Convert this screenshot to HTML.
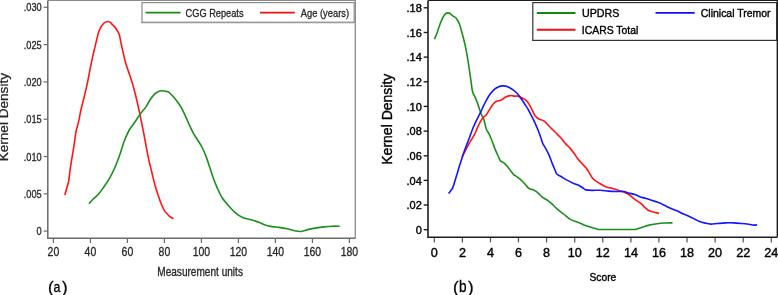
<!DOCTYPE html>
<html><head><meta charset="utf-8"><style>
html,body{margin:0;padding:0;background:#fff;}
svg{display:block;will-change:transform;}
text{font-family:"Liberation Sans",sans-serif;}
.lt{fill:#262626;stroke:#262626;stroke-width:0.3px;}
.rt{fill:#000;stroke:#000;stroke-width:0.38px;}
.lab text{fill:#000;stroke:#000;stroke-width:0.3px;}
</style></head><body>
<svg width="778" height="295" viewBox="0 0 778 295" font-family="Liberation Sans, sans-serif">
<rect width="778" height="295" fill="#fff"/>
<path d="M47.8,0.4 H355.3 V238.2" fill="none" stroke="#8a8a8a" stroke-width="1.3"/>
<path d="M47.8,0.4 V238.2 H355.3" fill="none" stroke="#6a6a6a" stroke-width="1.5"/>
<line x1="43.6" x2="47.8" y1="231.1" y2="231.1" stroke="#6a6a6a" stroke-width="1.2"/>
<text transform="translate(41.7,235.2) scale(0.84,1)" text-anchor="end" font-size="11" class="lt">0</text>
<line x1="43.6" x2="47.8" y1="193.8" y2="193.8" stroke="#6a6a6a" stroke-width="1.2"/>
<text transform="translate(41.7,197.9) scale(0.84,1)" text-anchor="end" font-size="11" class="lt">.005</text>
<line x1="43.6" x2="47.8" y1="156.5" y2="156.5" stroke="#6a6a6a" stroke-width="1.2"/>
<text transform="translate(41.7,160.6) scale(0.84,1)" text-anchor="end" font-size="11" class="lt">.010</text>
<line x1="43.6" x2="47.8" y1="119.2" y2="119.2" stroke="#6a6a6a" stroke-width="1.2"/>
<text transform="translate(41.7,123.3) scale(0.84,1)" text-anchor="end" font-size="11" class="lt">.015</text>
<line x1="43.6" x2="47.8" y1="81.9" y2="81.9" stroke="#6a6a6a" stroke-width="1.2"/>
<text transform="translate(41.7,86.0) scale(0.84,1)" text-anchor="end" font-size="11" class="lt">.020</text>
<line x1="43.6" x2="47.8" y1="44.6" y2="44.6" stroke="#6a6a6a" stroke-width="1.2"/>
<text transform="translate(41.7,48.7) scale(0.84,1)" text-anchor="end" font-size="11" class="lt">.025</text>
<line x1="43.6" x2="47.8" y1="7.3" y2="7.3" stroke="#6a6a6a" stroke-width="1.2"/>
<text transform="translate(41.7,11.4) scale(0.84,1)" text-anchor="end" font-size="11" class="lt">.030</text>
<line x1="53.4" x2="53.4" y1="239.0" y2="243" stroke="#6a6a6a" stroke-width="1.2"/>
<text transform="translate(53.4,255.8) scale(0.84,1)" text-anchor="middle" font-size="12.5" class="lt">20</text>
<line x1="90.4" x2="90.4" y1="239.0" y2="243" stroke="#6a6a6a" stroke-width="1.2"/>
<text transform="translate(90.4,255.8) scale(0.84,1)" text-anchor="middle" font-size="12.5" class="lt">40</text>
<line x1="127.4" x2="127.4" y1="239.0" y2="243" stroke="#6a6a6a" stroke-width="1.2"/>
<text transform="translate(127.4,255.8) scale(0.84,1)" text-anchor="middle" font-size="12.5" class="lt">60</text>
<line x1="164.4" x2="164.4" y1="239.0" y2="243" stroke="#6a6a6a" stroke-width="1.2"/>
<text transform="translate(164.4,255.8) scale(0.84,1)" text-anchor="middle" font-size="12.5" class="lt">80</text>
<line x1="201.4" x2="201.4" y1="239.0" y2="243" stroke="#6a6a6a" stroke-width="1.2"/>
<text transform="translate(201.4,255.8) scale(0.84,1)" text-anchor="middle" font-size="12.5" class="lt">100</text>
<line x1="238.4" x2="238.4" y1="239.0" y2="243" stroke="#6a6a6a" stroke-width="1.2"/>
<text transform="translate(238.4,255.8) scale(0.84,1)" text-anchor="middle" font-size="12.5" class="lt">120</text>
<line x1="275.4" x2="275.4" y1="239.0" y2="243" stroke="#6a6a6a" stroke-width="1.2"/>
<text transform="translate(275.4,255.8) scale(0.84,1)" text-anchor="middle" font-size="12.5" class="lt">140</text>
<line x1="312.4" x2="312.4" y1="239.0" y2="243" stroke="#6a6a6a" stroke-width="1.2"/>
<text transform="translate(312.4,255.8) scale(0.84,1)" text-anchor="middle" font-size="12.5" class="lt">160</text>
<line x1="349.4" x2="349.4" y1="239.0" y2="243" stroke="#6a6a6a" stroke-width="1.2"/>
<text transform="translate(349.4,255.8) scale(0.84,1)" text-anchor="middle" font-size="12.5" class="lt">180</text>
<text transform="translate(200.1,275.5) scale(0.84,1)" text-anchor="middle" font-size="12" class="lt">Measurement units</text>
<text transform="translate(8.3,117.2) rotate(-90) scale(1,0.9)" text-anchor="middle" font-size="13.6" class="lt">Kernel Density</text>
<rect x="142.0" y="2.6" width="212.2" height="19.8" fill="#fff" stroke="#8a8a8a" stroke-width="1.2"/>
<line x1="141" x2="354.8" y1="22.5" y2="22.5" stroke="#999" stroke-width="1.6"/>
<line x1="145.6" x2="180.6" y1="12.6" y2="12.6" stroke="#1a8a1a" stroke-width="1.8"/>
<text transform="translate(185.6,16.8) scale(0.84,1)" font-size="11" class="lt">CGG Repeats</text>
<line x1="260" x2="294.8" y1="12.6" y2="12.6" stroke="#f01010" stroke-width="1.8"/>
<text transform="translate(300.8,16.8) scale(0.85,1)" font-size="11" class="lt">Age (years)</text>
<path d="M64.80,195.10 C65.12,193.97 66.07,190.57 66.70,188.30 C67.33,186.03 68.05,184.43 68.60,181.50 C69.15,178.57 69.42,174.77 70.00,170.70 C70.58,166.63 71.38,161.62 72.10,157.10 C72.82,152.58 73.65,147.87 74.30,143.60 C74.95,139.33 75.32,135.03 76.00,131.50 C76.68,127.97 77.53,126.18 78.40,122.40 C79.27,118.62 80.28,112.87 81.20,108.80 C82.12,104.73 82.92,102.07 83.90,98.00 C84.88,93.93 86.12,88.97 87.10,84.40 C88.08,79.83 88.88,75.20 89.80,70.60 C90.72,66.00 91.68,60.97 92.60,56.80 C93.52,52.63 94.37,49.47 95.30,45.60 C96.23,41.73 97.37,36.50 98.20,33.60 C99.03,30.70 99.55,29.72 100.30,28.20 C101.05,26.68 101.88,25.47 102.70,24.50 C103.52,23.53 104.28,22.90 105.20,22.40 C106.12,21.90 107.35,21.50 108.20,21.50 C109.05,21.50 109.68,21.97 110.30,22.40 C110.92,22.83 111.28,23.48 111.90,24.10 C112.52,24.72 113.30,25.32 114.00,26.10 C114.70,26.88 115.38,27.73 116.10,28.80 C116.82,29.87 117.72,31.33 118.30,32.50 C118.88,33.67 119.20,34.30 119.60,35.80 C120.00,37.30 120.18,39.02 120.70,41.50 C121.22,43.98 121.97,47.45 122.70,50.70 C123.43,53.95 124.33,58.10 125.10,61.00 C125.87,63.90 126.28,65.02 127.30,68.10 C128.32,71.18 129.95,75.52 131.20,79.50 C132.45,83.48 133.67,87.67 134.80,92.00 C135.93,96.33 136.93,100.72 138.00,105.50 C139.07,110.28 140.22,115.92 141.20,120.70 C142.18,125.48 143.02,129.65 143.90,134.20 C144.78,138.75 145.65,143.55 146.50,148.00 C147.35,152.45 148.13,156.95 149.00,160.90 C149.87,164.85 150.70,167.63 151.70,171.70 C152.70,175.77 153.87,181.22 155.00,185.30 C156.13,189.38 157.33,192.80 158.50,196.20 C159.67,199.60 160.87,203.08 162.00,205.70 C163.13,208.32 164.03,210.13 165.30,211.90 C166.57,213.67 168.25,215.18 169.60,216.30 C170.95,217.42 172.77,218.22 173.40,218.60" fill="none" stroke="#ff1515" stroke-width="1.6" stroke-linejoin="round"/>
<path d="M88.90,203.80 C89.58,203.03 91.42,200.78 93.00,199.20 C94.58,197.62 96.60,196.33 98.40,194.30 C100.20,192.27 102.00,189.58 103.80,187.00 C105.60,184.42 107.38,181.97 109.20,178.80 C111.02,175.63 112.95,171.97 114.70,168.00 C116.45,164.03 118.13,159.42 119.70,155.00 C121.27,150.58 122.55,145.58 124.10,141.50 C125.65,137.42 127.20,133.75 129.00,130.50 C130.80,127.25 133.02,124.77 134.90,122.00 C136.78,119.23 138.48,116.38 140.30,113.90 C142.12,111.42 144.22,109.37 145.80,107.10 C147.38,104.83 148.45,102.33 149.80,100.30 C151.15,98.27 152.53,96.33 153.90,94.90 C155.27,93.47 156.65,92.38 158.00,91.70 C159.35,91.02 160.65,90.85 162.00,90.80 C163.35,90.75 164.97,91.17 166.10,91.40 C167.23,91.63 167.67,91.38 168.80,92.20 C169.93,93.02 171.53,94.80 172.90,96.30 C174.27,97.80 175.65,99.40 177.00,101.20 C178.35,103.00 179.65,104.75 181.00,107.10 C182.35,109.45 183.73,112.37 185.10,115.30 C186.47,118.23 187.85,121.77 189.20,124.70 C190.55,127.63 191.90,130.52 193.20,132.90 C194.50,135.28 195.55,136.65 197.00,139.00 C198.45,141.35 200.35,143.98 201.90,147.00 C203.45,150.02 205.00,153.72 206.30,157.10 C207.60,160.48 208.57,163.90 209.70,167.30 C210.83,170.70 211.87,174.12 213.10,177.50 C214.33,180.88 215.58,184.22 217.10,187.60 C218.62,190.98 220.22,194.68 222.20,197.80 C224.18,200.92 226.73,203.75 229.00,206.30 C231.27,208.85 233.55,211.23 235.80,213.10 C238.05,214.97 239.97,216.38 242.50,217.50 C245.03,218.62 248.17,218.97 251.00,219.80 C253.83,220.63 257.15,221.65 259.50,222.50 C261.85,223.35 262.98,224.22 265.10,224.90 C267.22,225.58 269.83,226.18 272.20,226.60 C274.57,227.02 276.83,227.03 279.30,227.40 C281.77,227.77 284.65,228.28 287.00,228.80 C289.35,229.32 291.05,230.05 293.40,230.50 C295.75,230.95 298.53,231.68 301.10,231.50 C303.67,231.32 306.22,230.00 308.80,229.40 C311.38,228.80 314.02,228.32 316.60,227.90 C319.18,227.48 321.73,227.18 324.30,226.90 C326.87,226.62 329.43,226.32 332.00,226.20 C334.57,226.08 338.42,226.20 339.70,226.20" fill="none" stroke="#1a8f1a" stroke-width="1.6" stroke-linejoin="round"/>
<path d="M428.0,0.4 H777.3 V237.2" fill="none" stroke="#1e1e1e" stroke-width="1.4"/>
<path d="M428.0,0.4 V237.2 H777.3" fill="none" stroke="#1e1e1e" stroke-width="1.6"/>
<line x1="423.7" x2="428.0" y1="229.7" y2="229.7" stroke="#1e1e1e" stroke-width="1.4"/>
<text x="421.8" y="233.8" text-anchor="end" font-size="11" class="rt">0</text>
<line x1="423.7" x2="428.0" y1="205.0" y2="205.0" stroke="#1e1e1e" stroke-width="1.4"/>
<text x="421.8" y="209.1" text-anchor="end" font-size="11" class="rt">.02</text>
<line x1="423.7" x2="428.0" y1="180.4" y2="180.4" stroke="#1e1e1e" stroke-width="1.4"/>
<text x="421.8" y="184.5" text-anchor="end" font-size="11" class="rt">.04</text>
<line x1="423.7" x2="428.0" y1="155.8" y2="155.8" stroke="#1e1e1e" stroke-width="1.4"/>
<text x="421.8" y="159.8" text-anchor="end" font-size="11" class="rt">.06</text>
<line x1="423.7" x2="428.0" y1="131.1" y2="131.1" stroke="#1e1e1e" stroke-width="1.4"/>
<text x="421.8" y="135.2" text-anchor="end" font-size="11" class="rt">.08</text>
<line x1="423.7" x2="428.0" y1="106.4" y2="106.4" stroke="#1e1e1e" stroke-width="1.4"/>
<text x="421.8" y="110.5" text-anchor="end" font-size="11" class="rt">.10</text>
<line x1="423.7" x2="428.0" y1="81.8" y2="81.8" stroke="#1e1e1e" stroke-width="1.4"/>
<text x="421.8" y="85.9" text-anchor="end" font-size="11" class="rt">.12</text>
<line x1="423.7" x2="428.0" y1="57.1" y2="57.1" stroke="#1e1e1e" stroke-width="1.4"/>
<text x="421.8" y="61.2" text-anchor="end" font-size="11" class="rt">.14</text>
<line x1="423.7" x2="428.0" y1="32.5" y2="32.5" stroke="#1e1e1e" stroke-width="1.4"/>
<text x="421.8" y="36.6" text-anchor="end" font-size="11" class="rt">.16</text>
<line x1="423.7" x2="428.0" y1="7.8" y2="7.8" stroke="#1e1e1e" stroke-width="1.4"/>
<text x="421.8" y="11.9" text-anchor="end" font-size="11" class="rt">.18</text>
<line x1="434.3" x2="434.3" y1="238.0" y2="242.4" stroke="#555" stroke-width="1.2"/>
<text x="434.3" y="257.1" text-anchor="middle" font-size="12.6" class="rt">0</text>
<line x1="462.4" x2="462.4" y1="238.0" y2="242.4" stroke="#555" stroke-width="1.2"/>
<text x="462.4" y="257.1" text-anchor="middle" font-size="12.6" class="rt">2</text>
<line x1="490.5" x2="490.5" y1="238.0" y2="242.4" stroke="#555" stroke-width="1.2"/>
<text x="490.5" y="257.1" text-anchor="middle" font-size="12.6" class="rt">4</text>
<line x1="518.5" x2="518.5" y1="238.0" y2="242.4" stroke="#555" stroke-width="1.2"/>
<text x="518.5" y="257.1" text-anchor="middle" font-size="12.6" class="rt">6</text>
<line x1="546.6" x2="546.6" y1="238.0" y2="242.4" stroke="#555" stroke-width="1.2"/>
<text x="546.6" y="257.1" text-anchor="middle" font-size="12.6" class="rt">8</text>
<line x1="574.7" x2="574.7" y1="238.0" y2="242.4" stroke="#555" stroke-width="1.2"/>
<text x="574.7" y="257.1" text-anchor="middle" font-size="12.6" class="rt">10</text>
<line x1="602.8" x2="602.8" y1="238.0" y2="242.4" stroke="#555" stroke-width="1.2"/>
<text x="602.8" y="257.1" text-anchor="middle" font-size="12.6" class="rt">12</text>
<line x1="630.9" x2="630.9" y1="238.0" y2="242.4" stroke="#555" stroke-width="1.2"/>
<text x="630.9" y="257.1" text-anchor="middle" font-size="12.6" class="rt">14</text>
<line x1="658.9" x2="658.9" y1="238.0" y2="242.4" stroke="#555" stroke-width="1.2"/>
<text x="658.9" y="257.1" text-anchor="middle" font-size="12.6" class="rt">16</text>
<line x1="687.0" x2="687.0" y1="238.0" y2="242.4" stroke="#555" stroke-width="1.2"/>
<text x="687.0" y="257.1" text-anchor="middle" font-size="12.6" class="rt">18</text>
<line x1="715.1" x2="715.1" y1="238.0" y2="242.4" stroke="#555" stroke-width="1.2"/>
<text x="715.1" y="257.1" text-anchor="middle" font-size="12.6" class="rt">20</text>
<line x1="743.2" x2="743.2" y1="238.0" y2="242.4" stroke="#555" stroke-width="1.2"/>
<text x="743.2" y="257.1" text-anchor="middle" font-size="12.6" class="rt">22</text>
<line x1="771.3" x2="771.3" y1="238.0" y2="242.4" stroke="#555" stroke-width="1.2"/>
<text x="771.3" y="257.1" text-anchor="middle" font-size="12.6" class="rt">24</text>
<text transform="translate(602.9,280.8) scale(0.885,1)" text-anchor="middle" font-size="11.6" class="rt">Score</text>
<text transform="translate(392,119.2) rotate(-90)" text-anchor="middle" font-size="14" class="rt">Kernel Density</text>
<rect x="532.8" y="2.6" width="243.8" height="37.8" fill="#fff" stroke="#333" stroke-width="1.2"/>
<line x1="536.8" x2="575.5" y1="13" y2="13" stroke="#118811" stroke-width="1.9"/>
<line x1="536.8" x2="575.5" y1="29.8" y2="29.8" stroke="#f01010" stroke-width="1.9"/>
<line x1="655.5" x2="694.7" y1="12.9" y2="12.9" stroke="#1010f0" stroke-width="1.9"/>
<text transform="translate(582,17.2) scale(0.955,1)" font-size="11.2" class="rt">UPDRS</text>
<text transform="translate(581.8,34.3) scale(0.93,1)" font-size="11.2" class="rt">ICARS Total</text>
<text transform="translate(700.8,17.2) scale(0.935,1)" font-size="11.2" class="rt">Clinical Tremor</text>
<path d="M434.50,39.20 C434.95,38.08 436.32,34.90 437.20,32.50 C438.08,30.10 439.05,26.85 439.80,24.80 C440.55,22.75 440.98,21.77 441.70,20.20 C442.42,18.63 443.40,16.52 444.10,15.40 C444.80,14.28 445.28,13.92 445.90,13.50 C446.52,13.08 447.18,12.93 447.80,12.90 C448.42,12.87 449.05,13.05 449.60,13.30 C450.15,13.55 450.60,13.98 451.10,14.40 C451.60,14.82 452.08,15.43 452.60,15.80 C453.12,16.17 453.68,16.27 454.20,16.60 C454.72,16.93 455.15,17.20 455.70,17.80 C456.25,18.40 456.93,19.30 457.50,20.20 C458.07,21.10 458.62,22.07 459.10,23.20 C459.58,24.33 459.75,24.78 460.40,27.00 C461.05,29.22 462.23,33.55 463.00,36.50 C463.77,39.45 464.33,41.65 465.00,44.70 C465.67,47.75 466.38,51.42 467.00,54.80 C467.62,58.18 468.30,62.43 468.70,65.00 C469.10,67.57 469.03,67.65 469.40,70.20 C469.77,72.75 470.42,76.92 470.90,80.30 C471.38,83.68 471.90,88.28 472.30,90.50 C472.70,92.72 472.80,92.42 473.30,93.60 C473.80,94.78 474.62,96.08 475.30,97.60 C475.98,99.12 476.68,100.72 477.40,102.70 C478.12,104.68 478.87,107.37 479.60,109.50 C480.33,111.63 481.12,113.92 481.80,115.50 C482.48,117.08 483.03,117.03 483.70,119.00 C484.37,120.97 485.28,125.42 485.80,127.30 C486.32,129.18 486.30,129.28 486.80,130.30 C487.30,131.32 487.95,131.70 488.80,133.40 C489.65,135.10 490.88,137.97 491.90,140.50 C492.92,143.03 493.88,146.05 494.90,148.60 C495.92,151.15 497.23,154.05 498.00,155.80 C498.77,157.55 499.05,158.22 499.50,159.10 C499.95,159.98 499.92,160.43 500.70,161.10 C501.48,161.77 503.12,162.25 504.20,163.10 C505.28,163.95 506.18,165.00 507.20,166.20 C508.22,167.40 509.28,168.95 510.30,170.30 C511.32,171.65 512.47,173.40 513.30,174.30 C514.13,175.20 514.45,175.12 515.30,175.70 C516.15,176.28 517.38,177.02 518.40,177.80 C519.42,178.58 520.38,179.45 521.40,180.40 C522.42,181.35 523.48,182.38 524.50,183.50 C525.52,184.62 526.65,186.22 527.50,187.10 C528.35,187.98 528.75,188.38 529.60,188.80 C530.45,189.22 531.58,189.20 532.60,189.60 C533.62,190.00 534.68,190.53 535.70,191.20 C536.72,191.87 537.68,192.68 538.70,193.60 C539.72,194.52 540.78,195.85 541.80,196.70 C542.82,197.55 543.72,198.02 544.80,198.70 C545.88,199.38 547.10,199.95 548.30,200.80 C549.50,201.65 550.58,202.50 552.00,203.80 C553.42,205.10 554.87,206.90 556.80,208.60 C558.73,210.30 561.35,212.20 563.60,214.00 C565.85,215.80 567.82,217.97 570.30,219.40 C572.78,220.83 576.03,221.60 578.50,222.60 C580.97,223.60 584.00,224.93 585.10,225.40 L598.60,229.50 L635.30,229.50 L641.70,227.40 C642.77,227.07 645.53,226.00 648.10,225.40 C650.67,224.80 654.32,224.20 657.10,223.80 C659.88,223.40 662.23,223.15 664.80,223.00 C667.37,222.85 671.22,222.92 672.50,222.90" fill="none" stroke="#1a8f1a" stroke-width="1.6" stroke-linejoin="round"/>
<path d="M462.00,157.20 C462.57,156.12 464.32,152.80 465.40,150.70 C466.48,148.60 467.48,146.47 468.50,144.60 C469.52,142.73 470.48,141.20 471.50,139.50 C472.52,137.80 473.58,136.43 474.60,134.40 C475.62,132.37 476.58,129.50 477.60,127.30 C478.62,125.10 479.68,122.90 480.70,121.20 C481.72,119.50 482.73,118.22 483.70,117.10 C484.67,115.98 485.43,115.92 486.50,114.50 C487.57,113.08 488.95,110.38 490.10,108.60 C491.25,106.82 492.32,105.02 493.40,103.80 C494.48,102.58 495.52,101.85 496.60,101.30 C497.68,100.75 498.95,100.80 499.90,100.50 C500.85,100.20 501.40,100.03 502.30,99.50 C503.20,98.97 503.95,97.95 505.30,97.30 C506.65,96.65 508.88,95.80 510.40,95.60 C511.92,95.40 513.22,96.02 514.40,96.10 C515.58,96.18 516.65,95.98 517.50,96.10 C518.35,96.22 518.48,96.35 519.50,96.80 C520.52,97.25 522.42,98.12 523.60,98.80 C524.78,99.48 525.67,99.97 526.60,100.90 C527.53,101.83 528.37,103.08 529.20,104.40 C530.03,105.72 530.73,107.10 531.60,108.80 C532.47,110.50 533.60,113.20 534.40,114.60 C535.20,116.00 535.60,116.43 536.40,117.20 C537.20,117.97 537.90,118.53 539.20,119.20 C540.50,119.87 542.53,120.02 544.20,121.20 C545.87,122.38 547.68,124.78 549.20,126.30 C550.72,127.82 551.93,128.95 553.30,130.30 C554.67,131.65 556.05,133.03 557.40,134.40 C558.75,135.77 560.05,136.97 561.40,138.50 C562.75,140.03 564.13,142.08 565.50,143.60 C566.87,145.12 568.25,146.08 569.60,147.60 C570.95,149.12 572.25,150.83 573.60,152.70 C574.95,154.57 576.33,157.03 577.70,158.80 C579.07,160.57 580.27,161.60 581.80,163.30 C583.33,165.00 585.10,166.52 586.90,169.00 C588.70,171.48 590.53,175.82 592.60,178.20 C594.67,180.58 596.98,181.83 599.30,183.30 C601.62,184.77 604.28,186.15 606.50,187.00 C608.72,187.85 610.57,187.83 612.60,188.40 C614.63,188.97 616.83,189.78 618.70,190.40 C620.57,191.02 622.10,191.42 623.80,192.10 C625.50,192.78 627.22,193.42 628.90,194.50 C630.58,195.58 631.87,197.07 633.90,198.60 C635.93,200.13 639.23,202.18 641.10,203.70 C642.97,205.22 643.75,206.52 645.10,207.70 C646.45,208.88 647.67,210.05 649.20,210.80 C650.73,211.55 652.67,211.77 654.30,212.20 C655.93,212.63 658.22,213.20 659.00,213.40" fill="none" stroke="#ff1515" stroke-width="1.6" stroke-linejoin="round"/>
<path d="M448.60,193.60 C448.93,193.15 449.97,191.75 450.60,190.90 C451.23,190.05 451.88,189.47 452.40,188.50 C452.92,187.53 453.22,186.57 453.70,185.10 C454.18,183.63 454.68,181.73 455.30,179.70 C455.92,177.67 456.72,175.17 457.40,172.90 C458.08,170.63 458.73,168.25 459.40,166.10 C460.07,163.95 460.73,162.07 461.40,160.00 C462.07,157.93 462.57,156.10 463.40,153.70 C464.23,151.30 465.38,148.30 466.40,145.60 C467.42,142.90 468.48,140.22 469.50,137.50 C470.52,134.78 471.48,131.85 472.50,129.30 C473.52,126.75 474.58,124.40 475.60,122.20 C476.62,120.00 477.58,118.13 478.60,116.10 C479.62,114.07 480.88,111.72 481.70,110.00 C482.52,108.28 482.57,107.70 483.50,105.80 C484.43,103.90 486.22,100.53 487.30,98.60 C488.38,96.67 488.87,95.68 490.00,94.20 C491.13,92.72 492.75,90.92 494.10,89.70 C495.45,88.48 496.58,87.53 498.10,86.90 C499.62,86.27 501.50,85.87 503.20,85.90 C504.90,85.93 506.60,86.38 508.30,87.10 C510.00,87.82 511.87,89.10 513.40,90.20 C514.93,91.30 516.13,92.18 517.50,93.70 C518.87,95.22 520.25,97.35 521.60,99.30 C522.95,101.25 524.50,103.70 525.60,105.40 C526.70,107.10 527.42,108.13 528.20,109.50 C528.98,110.87 529.27,111.57 530.30,113.60 C531.33,115.63 533.20,119.17 534.40,121.70 C535.60,124.23 536.52,126.42 537.50,128.80 C538.48,131.18 539.43,133.60 540.30,136.00 C541.17,138.40 541.72,140.98 542.70,143.20 C543.68,145.42 545.12,147.27 546.20,149.30 C547.28,151.33 548.18,153.02 549.20,155.40 C550.22,157.78 551.28,161.05 552.30,163.60 C553.32,166.15 554.52,168.92 555.30,170.70 C556.08,172.48 555.98,173.28 557.00,174.30 C558.02,175.32 559.65,175.78 561.40,176.80 C563.15,177.82 565.63,179.38 567.50,180.40 C569.37,181.42 570.73,182.08 572.60,182.90 C574.47,183.72 576.83,184.35 578.70,185.30 C580.57,186.25 582.62,187.83 583.80,188.60 C584.98,189.37 584.40,189.60 585.80,189.90 C587.20,190.20 589.77,190.35 592.20,190.40 C594.63,190.45 597.68,190.08 600.40,190.20 C603.12,190.32 605.80,190.88 608.50,191.10 C611.20,191.32 614.05,191.43 616.60,191.50 C619.15,191.57 621.75,191.23 623.80,191.50 C625.85,191.77 627.03,192.60 628.90,193.10 C630.77,193.60 632.97,193.82 635.00,194.50 C637.03,195.18 639.25,196.55 641.10,197.20 C642.95,197.85 644.25,197.87 646.10,198.40 C647.95,198.93 649.92,199.63 652.20,200.40 C654.48,201.17 657.77,202.18 659.80,203.00 C661.83,203.82 662.62,204.42 664.40,205.30 C666.18,206.18 668.47,207.42 670.50,208.30 C672.53,209.18 674.57,209.70 676.60,210.60 C678.63,211.50 680.65,212.75 682.70,213.70 C684.75,214.65 686.85,215.38 688.90,216.30 C690.95,217.22 693.30,218.37 695.00,219.20 C696.70,220.03 697.40,220.65 699.10,221.30 C700.80,221.95 703.25,222.63 705.20,223.10 C707.15,223.57 708.77,224.03 710.80,224.10 C712.83,224.17 714.95,223.70 717.40,223.50 C719.85,223.30 722.78,223.00 725.50,222.90 C728.22,222.80 730.98,222.80 733.70,222.90 C736.42,223.00 739.27,223.27 741.80,223.50 C744.33,223.73 746.87,224.03 748.90,224.30 C750.93,224.57 752.63,225.02 754.00,225.10 C755.37,225.18 756.58,224.85 757.10,224.80" fill="none" stroke="#1515ff" stroke-width="1.6" stroke-linejoin="round"/>
<g class="lab">
<text x="48.0" y="292.6" font-size="16.8">(</text>
<text transform="translate(53.4,292.1) scale(0.87,1)" font-size="14.2">a</text>
<text x="62.1" y="292.6" font-size="16.8">)</text>
<text x="453.1" y="292.6" font-size="16.8">(</text>
<text transform="translate(459.1,292.0) scale(0.85,1)" font-size="16">b</text>
<text x="468.1" y="292.6" font-size="16.8">)</text>
</g>
</svg>
</body></html>
